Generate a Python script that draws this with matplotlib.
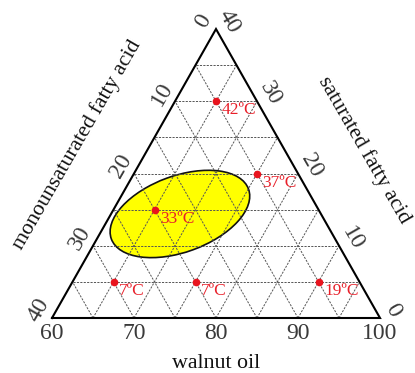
import numpy as np
import matplotlib
matplotlib.use("Agg")
import matplotlib.pyplot as plt
from matplotlib.patches import Ellipse

# ternary data: walnut oil (60-100), monounsaturated (0-40), saturated (0-40)
walnut = [65, 75, 65, 65, 75, 90]
mono = [5, 5, 20, 30, 20, 5]
sat = [30, 20, 15, 5, 5, 5]
temps = ["42ºC", "37ºC", "33ºC", "7ºC", "7ºC", "19ºC"]

bottom_ticks = [60, 70, 80, 90, 100]
left_ticks = [0, 10, 20, 30, 40]
right_ticks = [0, 10, 20, 30, 40]
grid_levels = [5, 10, 15, 20, 25, 30, 35]

# optimum region (walnut, saturated) centre
ellipse_center = (68.4, 14.4)

SPAN = 40.0
TRI_H = 0.881
SERIF = ["Liberation Serif", "DejaVu Serif"]


def tern(w, s):
    a = np.asarray(w, dtype=float) - 60.0
    c = np.asarray(s, dtype=float)
    return a + c / 2.0, c * TRI_H


fig = plt.figure(figsize=(4.15, 3.73), dpi=100)
ax = fig.add_axes([0, 0, 1, 1])
ax.set_xlim(-52 / 8.2, 363 / 8.2)
ax.set_ylim(-55 / 8.2, 318 / 8.2)
ax.set_aspect("auto")
ax.axis("off")

# yellow region
ex, ey = tern(ellipse_center[0], ellipse_center[1])
ax.add_patch(Ellipse((ex, ey), 17.8, 9.3, angle=20, facecolor="#ffff00",
                     edgecolor="#111111", lw=1.2, zorder=1))

# dashed grid
gkw = dict(color="#555555", lw=0.7, ls=(0, (2.2, 1.3)), zorder=2)
for v in grid_levels:
    # constant saturated
    x, y = tern([60, 100 - v], [v, v])
    ax.plot(x, y, **gkw)
    # constant walnut
    x, y = tern([60 + v, 60 + v], [0, SPAN - v])
    ax.plot(x, y, **gkw)
    # constant mono
    x, y = tern([100 - v, 60], [0, SPAN - v])
    ax.plot(x, y, **gkw)

# triangle border
bx, by = tern([60, 100, 60, 60], [0, 0, 40, 0])
ax.plot(bx, by, color="black", lw=1.5, zorder=3, solid_joinstyle="miter")

# tick labels
tick_kw = dict(fontsize=17, family=SERIF, color="#3a3a3a",
               textcoords="offset points", ha="center", va="center")
for t in bottom_ticks:
    x, y = tern(t, 0)
    ax.annotate(str(t), (x, y), xytext=(0, -11.5), **tick_kw)
for t in left_ticks:
    x, y = tern(60, SPAN - t)
    ax.annotate(str(t), (x, y), xytext=(-9.5, 5.5), rotation=60, **tick_kw)
for t in right_ticks:
    x, y = tern(100 - t, t)
    ax.annotate(str(t), (x, y), xytext=(9.5, 5.5), rotation=-60, **tick_kw)

# axis titles
title_kw = dict(transform=fig.transFigure, fontsize=15.8, family=SERIF,
                color="#111111", ha="center", va="center")
ax.text(77 / 415, 1 - 145 / 373, "monounsaturated fatty acid", rotation=60, **title_kw)
ax.text(364 / 415, 1 - 150 / 373, "saturated fatty acid", rotation=-60, **title_kw)
ax.text(216 / 415, 1 - 364 / 373, "walnut oil", **title_kw)

# data points
px, py = tern(walnut, sat)
ax.plot(px, py, "o", color="#e8141e", ms=5.5, mec="none", zorder=4)
for x, y, lab in zip(px, py, temps):
    ax.annotate(lab, (x, y), xytext=(4, -6.5), textcoords="offset points",
                fontsize=12.5, family=SERIF, color="#e8202a", ha="left", va="center", zorder=5)

fig.savefig("out.png", dpi=100)
